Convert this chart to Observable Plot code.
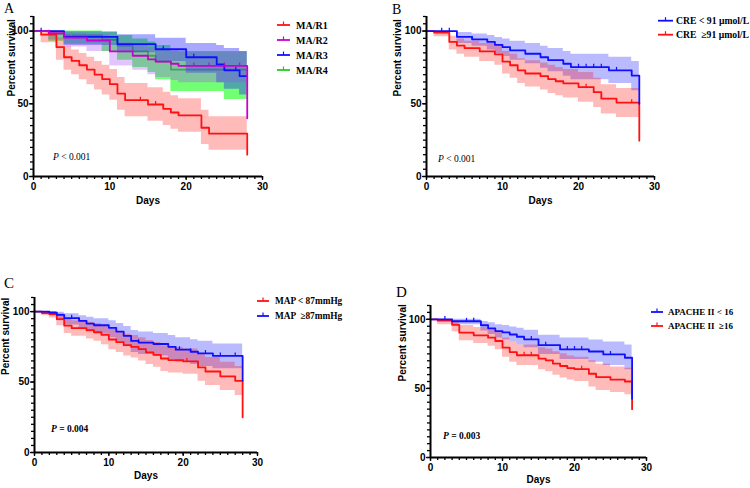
<!DOCTYPE html>
<html>
<head>
<meta charset="utf-8">
<script src="https://cdn.jsdelivr.net/npm/d3@7"></script>
<script src="https://cdn.jsdelivr.net/npm/@observablehq/plot@0.6"></script>
<style>
  body { margin: 0; background: #fff; }
  #wrap { position: relative; width: 750px; height: 488px; overflow: hidden; background: #fff; }
  #wrap > svg { position: absolute; }
</style>
</head>
<body>
<div id="wrap"></div>
<script>
// ---------- Panel A: MA/R quartiles ----------
const tA1  = [0, 1, 3, 4, 5, 6, 7, 8, 9, 10, 11, 12, 15, 17, 18, 19, 22, 23, 28];
const sA1  = [100, 97.5, 89, 82, 79.5, 76.5, 73.5, 70, 67, 63.5, 57, 52.5, 49.5, 46.5, 44, 42, 33.5, 29.5, 15];
const loA1 = [100, 92, 80, 73, 70, 66.5, 63, 59.5, 56, 52.5, 45.5, 41, 38, 35, 32.5, 30.5, 22, 18, 6];
const hiA1 = [100, 100, 95, 89.5, 87, 84.5, 82, 79, 76.5, 73.5, 68, 64, 61, 58, 55.5, 53.5, 45.5, 41, 26];
const cA1  = [14, 16];

const tA2  = [0, 2, 4, 7, 10, 13, 15, 16, 18, 19, 28];
const sA2  = [100, 98.5, 95.5, 93.5, 86, 83, 80.5, 79, 77.5, 76, 40];
const loA2 = [100, 94, 89, 86, 76, 73, 70, 68, 66, 64.5, 25];
const hiA2 = [100, 100, 98.5, 97.5, 92, 90, 88.5, 87.5, 86.5, 85.5, 55];
const cA2  = [2, 21, 23, 25, 27];

const tA3  = [0, 4, 11, 16, 20, 24, 25, 27, 28];
const sA3  = [100, 96, 91, 87.5, 82, 77, 73, 69, 69];
const loA3 = [100, 90, 85, 79, 71, 64.5, 60, 56, 56];
const hiA3 = [100, 99.5, 97.5, 95, 91.5, 90, 88, 86, 86];
const cA3  = [1, 17, 21, 26.5];

const tA4  = [0, 2, 4, 9, 11, 13, 15, 16, 18, 25, 28];
const sA4  = [100, 98, 97, 94, 90, 86, 83, 79, 73.5, 73.5, 73.5];
const loA4 = [100, 93, 91, 86, 80, 75, 71.5, 66.5, 58.5, 53, 53];
const hiA4 = [100, 100, 100, 99, 97, 94.5, 92.5, 90, 86, 86, 86];
const cA4  = [5];

// ---------- Panel B: creatinine ----------
const tB1  = [0, 4, 6, 8, 9, 10, 11, 13, 15, 16, 18, 19, 24, 27, 28];
const sB1  = [100, 96, 94.3, 92.5, 90.5, 89, 86.7, 84.4, 82, 80, 77.5, 75.2, 73, 69.4, 50];
const loB1 = [100, 91.5, 89.5, 87, 84.5, 82.5, 80, 77.5, 74.5, 72, 69, 66.5, 64, 59, 30];
const hiB1 = [100, 99, 98, 97, 95.5, 94.5, 93, 91.5, 89.5, 88, 86, 84, 82, 79, 65];
const cB1  = [2, 3, 6, 20, 21, 22, 23, 25];

const tB2  = [0, 1, 3, 4, 5, 7, 9, 10, 11, 12, 13, 15, 16, 17, 18, 20, 22, 23, 25, 28];
const sB2  = [100, 99, 92.5, 90, 88.3, 86, 84, 79, 76.5, 73, 70.8, 69, 67, 65.5, 64, 61.5, 58, 53.5, 50.8, 24.6];
const loB2 = [100, 96, 87, 84, 82, 79, 76.5, 70.5, 67.5, 64, 61.5, 59.5, 57, 55.5, 54, 51, 47.5, 43, 40.5, 12];
const hiB2 = [100, 100, 96.5, 94.5, 93, 91.5, 90, 86, 84, 81, 79.5, 78, 76.5, 75, 73.5, 71.5, 67.5, 63, 60.5, 38];
const cB2  = [21, 27];

// ---------- Panel C: mean arterial pressure ----------
const tC1  = [0, 1, 2, 3, 4, 5, 7, 8, 9, 10, 11, 12, 13, 14, 15, 16, 17, 18, 20, 22, 23, 25, 27, 28];
const sC1  = [100, 99, 98.3, 94.6, 90, 88.2, 86.8, 85.4, 83.5, 80.2, 78.3, 76.2, 75, 73.3, 71, 69.3, 66.7, 65.6, 64.6, 60.4, 57.5, 54, 50.9, 25];
const loC1 = [100, 97, 95.5, 90, 84.5, 82.5, 80.5, 79, 76.5, 73, 71, 68.5, 67, 65, 62.5, 60.5, 57.5, 56.5, 55.5, 50.5, 47.5, 44, 40.5, 12];
const hiC1 = [100, 100, 100, 98.5, 95, 93.5, 92.5, 91.5, 90, 87.5, 85.5, 84, 83, 81.5, 79.5, 78, 75.5, 74.5, 73.5, 70, 67.5, 64, 61, 38];
const cC1  = [20.5];

const tC2  = [0, 2, 3, 4, 6, 7, 8, 10, 11, 12, 13, 14, 16, 18, 19, 21, 22, 24, 28];
const sC2  = [100, 99.3, 97.6, 95.3, 93.4, 91.5, 90.3, 88.5, 85.8, 82.8, 79.2, 78, 77, 75, 73, 71.5, 70.3, 68.6, 51];
const loC2 = [100, 97, 93.5, 90.5, 88, 85.5, 84, 81.5, 78.5, 75, 71, 69.5, 68.5, 66, 64, 62.5, 61, 59.5, 40];
const hiC2 = [100, 100, 99.5, 98.5, 97, 96, 95, 93.5, 91.5, 89.5, 86.5, 85.5, 84.5, 83, 81.5, 80, 79, 77, 62];
const cC2  = [5, 6, 14, 19.5, 21, 23, 25, 27];

// ---------- Panel D: APACHE II score ----------
const tD1  = [0, 3, 7, 8, 9, 10, 11, 12, 13, 15, 18, 22, 24, 27, 28];
const sD1  = [100, 98.6, 95.7, 93.5, 91.5, 90.5, 89, 87.4, 85.5, 81.3, 78.2, 76.7, 74.6, 72.2, 42.5];
const loD1 = [100, 96, 91.5, 89, 86.5, 85, 83.5, 81.5, 79.5, 74.5, 71, 69, 66.5, 63.5, 30];
const hiD1 = [100, 100, 98.5, 97.5, 96, 95.5, 94.5, 93.5, 92, 88.5, 86.5, 85, 83.5, 81.5, 60];
const cD1  = [2, 5, 6, 14, 16, 19, 20, 21, 25];

const tD2  = [0, 1, 3, 4, 6, 8, 9, 10, 11, 12, 15, 16, 17, 18, 19, 20, 22, 23, 25, 27, 28];
const sD2  = [100, 99, 96, 90.3, 88.4, 86.7, 84.3, 79.5, 76.3, 74, 71.5, 70.3, 68, 66.2, 64.7, 64, 60.6, 58.2, 56.3, 55, 35];
const loD2 = [100, 96, 91, 84.5, 82.5, 80.5, 78, 72.5, 69, 66.5, 63.5, 62, 59.5, 57.5, 56, 55, 51, 48.5, 47, 45.5, 22];
const hiD2 = [100, 100, 99, 95.5, 94, 92.5, 90.5, 86.5, 83.5, 81.5, 79.5, 78.5, 76.5, 75, 73.5, 72.5, 70, 67.5, 65.5, 64.5, 50];
const cD2  = [13, 14, 21];

// Labels
const labelsA = ["MA/R1", "MA/R2", "MA/R3", "MA/R4"];
const labelsB = ["CRE < 91 \u03bcmol/L", "CRE \u00a0\u226591 \u03bcmol/L"];
const labelsC = ["MAP < 87mmHg", "MAP \u00a0\u226587mmHg"];
const labelsD = ["APACHE II < 16", "APACHE II \u00a0\u226516"];
const pValues = ["< 0.001", "< 0.001", "= 0.004", "= 0.003"];
const xTicksMajor = [0, 10, 20, 30];
const yTicksMajor = [0, 50, 100];

// Colours
const RED = "#ff1111", BLUE = "#1010ff", MAGENTA = "#cc00cc", GREEN = "#22cc22";

function toRows(t, s, lo, hi) {
  return t.map((d, i) => ({t: d, s: s[i], lo: lo[i], hi: hi[i]}));
}
function censorRows(t, s, times) {
  return times.map(c => {
    let i = 0;
    while (i + 1 < t.length && t[i + 1] <= c) i++;
    return {t: c, s: s[i]};
  });
}
// Short upward tick marking a censored observation
const censorTick = {
  draw(ctx, size) {
    const h = Math.sqrt(size / Math.PI) * 1.7;
    ctx.moveTo(0, 0);
    ctx.lineTo(0, -h);
  }
};

function series(t, s, lo, hi, c, color, band, bandOpacity) {
  return {rows: toRows(t, s, lo, hi), cens: censorRows(t, s, c), color, band, bandOpacity};
}

const wrap = document.getElementById("wrap");

function panel(cfg) {
  const marks = [];
  for (const s of cfg.bands) {
    marks.push(Plot.areaY(s.rows, {x: "t", y1: "lo", y2: "hi", curve: "step-after", fill: s.band, fillOpacity: s.bandOpacity}));
    if (s.lineUnder) {
      marks.push(Plot.line(s.rows, {x: "t", y: "s", curve: "step-after", stroke: s.color, strokeWidth: 1.8}));
    }
  }
  for (const s of cfg.lines) {
    if (s.lineUnder) continue;
    marks.push(Plot.line(s.rows, {x: "t", y: "s", curve: "step-after", stroke: s.color, strokeWidth: 1.8}));
  }
  for (const s of cfg.lines) {
    marks.push(Plot.dot(s.cens, {x: "t", y: "s", symbol: censorTick, r: 2, stroke: s.color, strokeWidth: 1.2}));
  }
  // axes
  marks.push(
    Plot.axisX(d3.range(0, 31, 1), {tickSize: 3, tickFormat: () => "", strokeWidth: 1.3, label: null}),
    Plot.axisX(xTicksMajor, {tickSize: 4, tickPadding: 2, strokeWidth: 1.3, label: null}),
    Plot.axisY(d3.range(0, 111, 5), {tickSize: 3, tickFormat: () => "", strokeWidth: 1.3, label: null}),
    Plot.axisY(yTicksMajor, {tickSize: 4, tickPadding: 1, strokeWidth: 1.3, label: null}),
    Plot.ruleX([0], {y1: 0, y2: 110, strokeWidth: 2}),
    Plot.ruleY([0], {x1: 0, x2: 30, strokeWidth: 2}),
    Plot.text(["Days"], {frameAnchor: "bottom", dy: cfg.daysDy, fontWeight: "bold", fontSize: 10}),
    Plot.text(["Percent survival"], {frameAnchor: "left", dx: cfg.yLabelDx, rotate: -90, fontWeight: "bold", fontSize: 10})
  );
  const svg = Plot.plot({
    width: cfg.width, height: cfg.height,
    marginLeft: cfg.mL, marginRight: cfg.mR, marginTop: cfg.mT, marginBottom: cfg.mB,
    x: {domain: [0, 30]},
    y: {domain: [0, 110]},
    style: {fontFamily: "'Liberation Sans', Arial, sans-serif", fontSize: "10px", fontWeight: "bold", color: "#000", background: "transparent", overflow: "visible"},
    marks
  });
  svg.style.left = cfg.left + "px";
  svg.style.top = cfg.top + "px";
  wrap.appendChild(svg);
}

// Panel A
const a1 = series(tA1, sA1, loA1, hiA1, cA1, RED, "#ff0000", 0.27);
const a2 = series(tA2, sA2, loA2, hiA2, cA2, MAGENTA, "#a040ff", 0.3);
const a3 = series(tA3, sA3, loA3, hiA3, cA3, BLUE, "#1a1aff", 0.38);
const a4 = series(tA4, sA4, loA4, hiA4, cA4, GREEN, "#00ff00", 0.55);
a4.lineUnder = true;
panel({bands: [a4, a1, a3, a2], lines: [a1, a4, a3, a2], left: 0, top: 0, width: 300, height: 215, mL: 33, mR: 38, mT: 16, mB: 39, daysDy: 27, yLabelDx: -22});

// Panel B
const b1 = series(tB1, sB1, loB1, hiB1, cB1, BLUE, "#0000ff", 0.27);
const b2 = series(tB2, sB2, loB2, hiB2, cB2, RED, "#ff0000", 0.27);
panel({bands: [b1, b2], lines: [b2, b1], left: 390, top: 0, width: 300, height: 215, mL: 36, mR: 36, mT: 16, mB: 39, daysDy: 27, yLabelDx: -29});

// Panel C
const c1 = series(tC1, sC1, loC1, hiC1, cC1, RED, "#ff0000", 0.27);
const c2 = series(tC2, sC2, loC2, hiC2, cC2, BLUE, "#0000ff", 0.27);
panel({bands: [c2, c1], lines: [c1, c2], left: 0, top: 240, width: 300, height: 248, mL: 34, mR: 43, mT: 57, mB: 36, daysDy: 26, yLabelDx: -29});

// Panel D
const d1 = series(tD1, sD1, loD1, hiD1, cD1, BLUE, "#0000ff", 0.27);
const d2 = series(tD2, sD2, loD2, hiD2, cD2, RED, "#ff0000", 0.27);
panel({bands: [d1, d2], lines: [d2, d1], left: 390, top: 240, width: 300, height: 248, mL: 40, mR: 44, mT: 65, mB: 31, daysDy: 25, yLabelDx: -28});

// ---------- Panel letters, legends and log-rank P values ----------
const over = d3.select(wrap).append("svg")
  .attr("width", 750).attr("height", 488)
  .style("left", "0px").style("top", "0px").style("pointer-events", "none");

const serif = "'Liberation Serif', 'Times New Roman', serif";
[["A", 4, 13, 14], ["B", 392, 14, 14], ["C", 4, 288, 15], ["D", 396, 297, 15]].forEach(([txt, x, y, fs]) => {
  over.append("text").attr("x", x).attr("y", y).attr("font-family", serif).attr("font-size", fs).text(txt);
});

function legend(items, x1, x2, tx, rows, fs) {
  items.forEach(([label, color], i) => {
    const y = rows[i];
    over.append("line").attr("x1", x1).attr("x2", x2).attr("y1", y).attr("y2", y).attr("stroke", color).attr("stroke-width", 1.8);
    over.append("line").attr("x1", (x1 + x2) / 2).attr("x2", (x1 + x2) / 2).attr("y1", y).attr("y2", y - 3.5).attr("stroke", color).attr("stroke-width", 1.2);
    over.append("text").attr("x", tx).attr("y", y).attr("dy", "0.35em")
      .attr("font-family", serif).attr("font-weight", "bold").attr("font-size", fs).text(label);
  });
}
legend([[labelsA[0], RED], [labelsA[1], MAGENTA], [labelsA[2], BLUE], [labelsA[3], GREEN]], 277, 290, 296, [25, 40, 55, 70], 10);
legend([[labelsB[0], BLUE], [labelsB[1], RED]], 658, 673, 676, [20.7, 34.7], 9.7);
legend([[labelsC[0], RED], [labelsC[1], BLUE]], 257, 269, 275, [301, 316], 9.3);
legend([[labelsD[0], BLUE], [labelsD[1], RED]], 651, 663, 668, [312, 326], 9);

function pText(x, y, value, bold) {
  const t = over.append("text").attr("x", x).attr("y", y).attr("font-family", serif).attr("font-size", 9.5)
    .attr("font-weight", bold ? "bold" : "normal");
  t.append("tspan").attr("font-style", "italic").text("P");
  t.append("tspan").text(" " + value);
}
pText(53, 160, pValues[0], false);
pText(438, 162, pValues[1], false);
pText(51, 432, pValues[2], true);
pText(443, 439, pValues[3], true);
</script>
</body>
</html>
